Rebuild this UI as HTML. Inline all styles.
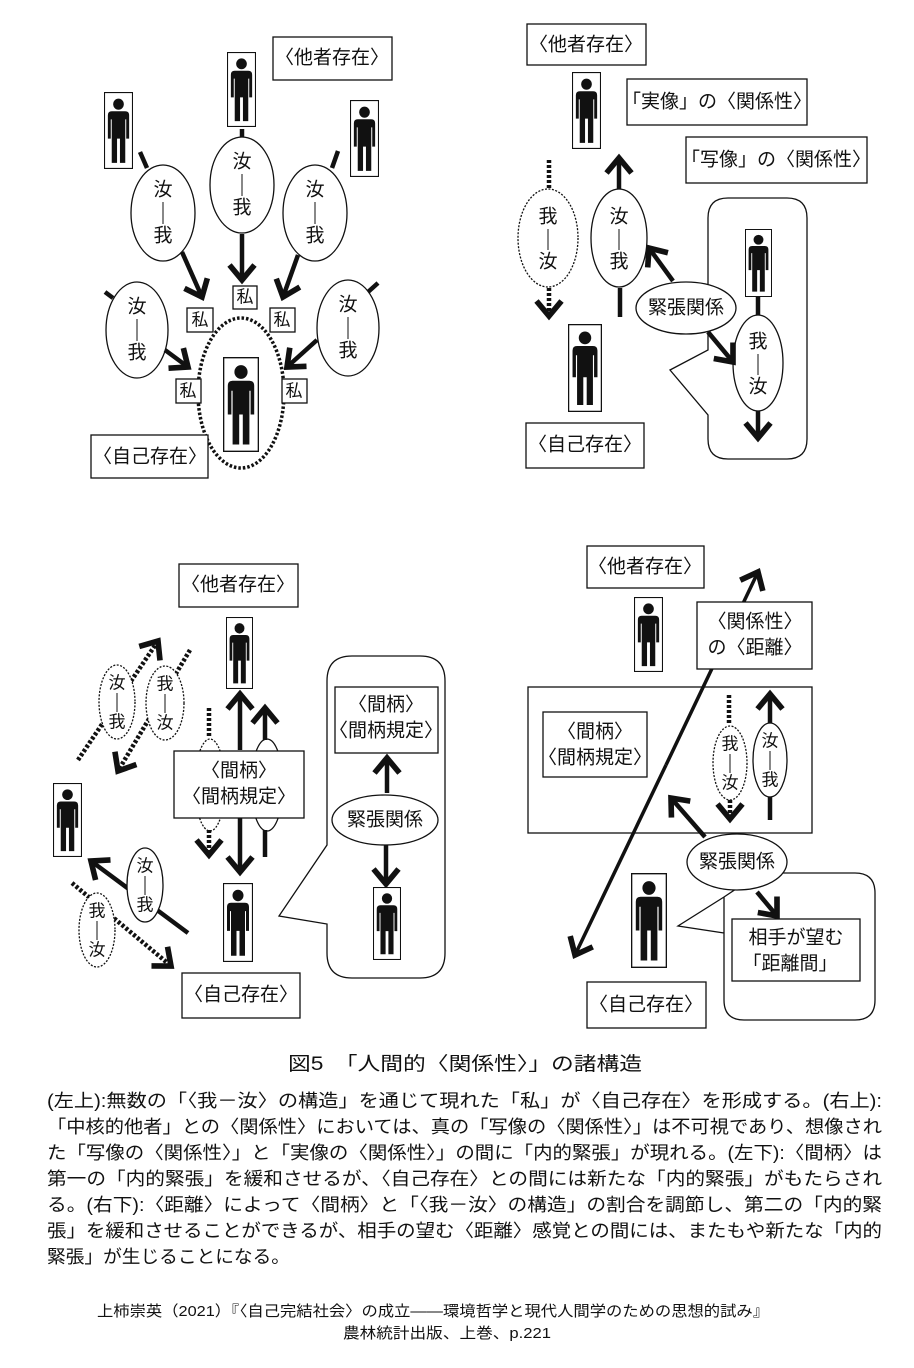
<!DOCTYPE html>
<html><head><meta charset="utf-8"><style>
html,body{margin:0;padding:0;background:#fff;}
svg{display:block;}
text{font-family:"Liberation Sans","Noto Sans CJK JP",sans-serif;fill:#111;}
</style></head><body>
<svg width="914" height="1368" viewBox="0 0 914 1368" xmlns="http://www.w3.org/2000/svg">
<defs>
<symbol id="p" viewBox="0 0 30 76" preserveAspectRatio="none">
<rect x="0.5" y="0.5" width="29" height="75" fill="#fff" stroke="#111" stroke-width="1.2"/>
<circle cx="15" cy="12" r="5.5" fill="#111"/>
<path d="M8,19 H22 Q26,19 26,23 V46 H23 V27 H22 V70 H16.5 V46 H13.5 V70 H8 V27 H7 V46 H4 V23 Q4,19 8,19 Z" fill="#111"/>
</symbol>
<marker id="a" markerUnits="userSpaceOnUse" markerWidth="30" markerHeight="30" viewBox="-14 -12 18 24" refX="0" refY="0" orient="auto">
<path d="M-12,-10 L0,0 L-12,10" fill="none" stroke="#111" stroke-width="4.5"/>
</marker>
</defs>
<g fill="none" stroke="#111" stroke-width="1.3">
<!-- Q1 -->
<rect x="273" y="37" width="119" height="43" fill="#fff"/>
<ellipse cx="163" cy="213" rx="32" ry="48"/>
<ellipse cx="242" cy="185" rx="32" ry="48"/>
<ellipse cx="315" cy="213" rx="32" ry="48"/>
<ellipse cx="137" cy="330" rx="31" ry="48"/>
<ellipse cx="348" cy="328" rx="31" ry="48"/>
<ellipse cx="241" cy="393" rx="43" ry="75" stroke-width="3.5" stroke-dasharray="2.5,2"/>
<rect x="233" y="286" width="24" height="23" fill="#fff"/>
<rect x="187" y="308" width="26" height="24" fill="#fff"/>
<rect x="270" y="308" width="25" height="24" fill="#fff"/>
<rect x="176" y="379" width="25" height="24" fill="#fff"/>
<rect x="282" y="379" width="25" height="24" fill="#fff"/>
<rect x="91" y="435" width="117" height="43" fill="#fff"/>
<!-- Q2 -->
<rect x="527" y="24" width="119" height="41"/>
<rect x="627" y="79" width="180" height="46"/>
<rect x="686" y="137" width="181" height="46"/>
<ellipse cx="548" cy="238" rx="30" ry="49" stroke-dasharray="2,1.5"/>
<ellipse cx="619" cy="238" rx="28" ry="49"/>
<path d="M708,350 V218 Q708,198 728,198 H787 Q807,198 807,218 V439 Q807,459 787,459 H728 Q708,459 708,439 V415 L670,370 Z" fill="#fff"/>
<ellipse cx="758" cy="363" rx="25" ry="48"/>
<ellipse cx="686" cy="308" rx="50" ry="26" fill="#fff"/>
<rect x="526" y="423" width="118" height="45"/>
<!-- Q3 -->
<rect x="179" y="564" width="119" height="43"/>
<ellipse cx="210" cy="785" rx="15" ry="46" stroke-dasharray="2,1.5"/>
<ellipse cx="267" cy="785" rx="16" ry="46"/>
<rect x="182" y="973" width="118" height="45"/>
<path d="M327,845 V681 Q327,656 352,656 H420 Q445,656 445,681 V953 Q445,978 420,978 H352 Q327,978 327,953 V924 L279,916 Z"/>
<rect x="335" y="687" width="103" height="66"/>
<ellipse cx="385" cy="820" rx="53" ry="25"/>
<!-- Q4 -->
<rect x="587" y="546" width="117" height="42"/>
<rect x="528" y="687" width="284" height="146"/>
<rect x="543" y="712" width="104" height="65"/>
<ellipse cx="730" cy="763" rx="17" ry="37" stroke-dasharray="2,1.5"/>
<ellipse cx="770" cy="760" rx="17" ry="37"/>
<path d="M724,897 V1000 Q724,1020 744,1020 H855 Q875,1020 875,1000 V893 Q875,873 855,873 H760 L724,897 L678,926 L724,933 Z" fill="#fff"/>
<rect x="732" y="919" width="128" height="62"/>
<ellipse cx="737" cy="862" rx="50" ry="28" fill="#fff"/>
<rect x="587" y="982" width="119" height="46"/>
</g>

<!-- thick lines and arrows -->
<g fill="none" stroke="#111" stroke-width="4.5">
<!-- Q1 -->
<line x1="140" y1="152" x2="147" y2="168"/>
<line x1="242" y1="129" x2="242" y2="137"/>
<line x1="338" y1="151" x2="332" y2="168"/>
<line x1="105" y1="292" x2="113" y2="298"/>
<line x1="378" y1="283" x2="368" y2="292"/>
<line x1="182" y1="252" x2="202" y2="297" marker-end="url(#a)"/>
<line x1="242" y1="234" x2="242" y2="280" marker-end="url(#a)"/>
<line x1="298" y1="255" x2="283" y2="297" marker-end="url(#a)"/>
<line x1="165" y1="350" x2="188" y2="367" marker-end="url(#a)"/>
<line x1="317" y1="340" x2="287" y2="367" marker-end="url(#a)"/>
<!-- Q2 -->
<line x1="549" y1="160" x2="549" y2="189" stroke-dasharray="3,2"/>
<line x1="549" y1="288" x2="549" y2="316" stroke-dasharray="3,2" marker-end="url(#a)"/>
<line x1="619" y1="189" x2="619" y2="158" marker-end="url(#a)"/>
<line x1="620" y1="288" x2="620" y2="317"/>
<line x1="673" y1="281" x2="649" y2="248" marker-end="url(#a)"/>
<line x1="708" y1="332" x2="733" y2="362" marker-end="url(#a)"/>
<line x1="758" y1="297" x2="758" y2="315"/>
<line x1="758" y1="411" x2="758" y2="438" marker-end="url(#a)"/>
<!-- Q3 -->
<line x1="209" y1="708" x2="209" y2="738" stroke-dasharray="3,2"/>
<line x1="209" y1="830" x2="209" y2="855" stroke-dasharray="3,2" marker-end="url(#a)"/>
<line x1="240" y1="750" x2="240" y2="694" marker-end="url(#a)"/>
<line x1="240" y1="818" x2="240" y2="872" marker-end="url(#a)"/>
<line x1="265" y1="740" x2="265" y2="708" marker-end="url(#a)"/>
<line x1="265" y1="830" x2="265" y2="857"/>
<line x1="78" y1="760" x2="158" y2="641" stroke-dasharray="3,2" marker-end="url(#a)"/>
<line x1="190" y1="650" x2="118" y2="771" stroke-dasharray="3,2" marker-end="url(#a)"/>
<line x1="188" y1="933" x2="91" y2="861" marker-end="url(#a)"/>
<line x1="72" y1="883" x2="171" y2="966" stroke-dasharray="3,2" marker-end="url(#a)"/>
<line x1="387" y1="793" x2="387" y2="758" marker-end="url(#a)"/>
<line x1="386" y1="845" x2="386" y2="884" marker-end="url(#a)"/>
<!-- Q4 -->
<line x1="729" y1="695" x2="729" y2="723" stroke-dasharray="3,2"/>
<line x1="730" y1="800" x2="730" y2="819" stroke-dasharray="3,2" marker-end="url(#a)"/>
<line x1="770" y1="723" x2="770" y2="694" marker-end="url(#a)"/>
<line x1="770" y1="797" x2="770" y2="820"/>
<line x1="705" y1="837" x2="671" y2="798" marker-end="url(#a)"/>
<line x1="757" y1="892" x2="777" y2="916" marker-end="url(#a)"/>
</g>
<g fill="none" stroke="#111" stroke-width="3.5">
<line x1="666" y1="765" x2="575" y2="955" marker-end="url(#a)"/>
<line x1="666" y1="765" x2="758" y2="572" marker-end="url(#a)"/>
</g>
<!-- shapes drawn over lines -->
<g fill="#fff" stroke="#111" stroke-width="1.3">
<rect x="697" y="602" width="115" height="67"/>
<rect x="174" y="751" width="130" height="67"/>
<ellipse cx="117" cy="702" rx="18" ry="37" stroke-dasharray="2,1.5"/>
<ellipse cx="165" cy="703" rx="19" ry="37" stroke-dasharray="2,1.5"/>
<ellipse cx="145" cy="885" rx="18" ry="37"/>
<ellipse cx="97" cy="930" rx="18" ry="37" stroke-dasharray="2,1.5"/>
</g>

<!-- persons -->
<use href="#p" x="227" y="52" width="29" height="75"/>
<use href="#p" x="104" y="92" width="29" height="77"/>
<use href="#p" x="350" y="100" width="29" height="77"/>
<use href="#p" x="223" y="357" width="36" height="95"/>
<use href="#p" x="572" y="72" width="29" height="77"/>
<use href="#p" x="745" y="229" width="27" height="68"/>
<use href="#p" x="568" y="324" width="34" height="88"/>
<use href="#p" x="226" y="617" width="27" height="72"/>
<use href="#p" x="53" y="783" width="29" height="74"/>
<use href="#p" x="223" y="883" width="30" height="79"/>
<use href="#p" x="373" y="887" width="28" height="73"/>
<use href="#p" x="634" y="597" width="29" height="75"/>
<use href="#p" x="631" y="873" width="36" height="95"/>

<!-- text -->
<g font-size="19" text-anchor="middle" dominant-baseline="central">
<text x="332" y="58">〈他者存在〉</text>
<text x="150" y="457">〈自己存在〉</text>
<text x="245" y="297" font-size="17">私</text>
<text x="200" y="320" font-size="17">私</text>
<text x="282" y="320" font-size="17">私</text>
<text x="188" y="391" font-size="17">私</text>
<text x="294" y="391" font-size="17">私</text>
<text x="586" y="45">〈他者存在〉</text>
<text x="717" y="102">「実像」の〈関係性〉</text>
<text x="776" y="160">「写像」の〈関係性〉</text>
<text x="686" y="308">緊張関係</text>
<text x="585" y="445">〈自己存在〉</text>
<text x="238" y="585">〈他者存在〉</text>
<text x="239" y="771">〈間柄〉</text>
<text x="239" y="797">〈間柄規定〉</text>
<text x="241" y="995">〈自己存在〉</text>
<text x="386" y="705">〈間柄〉</text>
<text x="386" y="731">〈間柄規定〉</text>
<text x="385" y="820">緊張関係</text>
<text x="645" y="567">〈他者存在〉</text>
<text x="755" y="622">〈関係性〉</text>
<text x="755" y="648">の〈距離〉</text>
<text x="595" y="732">〈間柄〉</text>
<text x="595" y="758">〈間柄規定〉</text>
<text x="737" y="862">緊張関係</text>
<text x="796" y="938">相手が望む</text>
<text x="790" y="964">「距離間」</text>
<text x="646" y="1005">〈自己存在〉</text>
</g>
<!-- ellipse vertical labels -->
<g font-size="19" text-anchor="middle" dominant-baseline="central">
<text x="163" y="190">汝</text><text x="163" y="236">我</text>
<text x="242" y="162">汝</text><text x="242" y="208">我</text>
<text x="315" y="190">汝</text><text x="315" y="236">我</text>
<text x="137" y="307">汝</text><text x="137" y="353">我</text>
<text x="348" y="305">汝</text><text x="348" y="351">我</text>
<text x="548" y="217">我</text><text x="548" y="262">汝</text>
<text x="619" y="217">汝</text><text x="619" y="262">我</text>
<text x="758" y="342">我</text><text x="758" y="387">汝</text>
<text x="117" y="683" font-size="17">汝</text><text x="117" y="722" font-size="17">我</text>
<text x="165" y="684" font-size="17">我</text><text x="165" y="723" font-size="17">汝</text>
<text x="145" y="866" font-size="17">汝</text><text x="145" y="905" font-size="17">我</text>
<text x="97" y="911" font-size="17">我</text><text x="97" y="950" font-size="17">汝</text>
<text x="730" y="744" font-size="17">我</text><text x="730" y="783" font-size="17">汝</text>
<text x="770" y="741" font-size="17">汝</text><text x="770" y="780" font-size="17">我</text>
</g>
<g stroke="#111" stroke-width="1">
<line x1="163" y1="202" x2="163" y2="224"/>
<line x1="242" y1="174" x2="242" y2="196"/>
<line x1="315" y1="202" x2="315" y2="224"/>
<line x1="137" y1="319" x2="137" y2="341"/>
<line x1="348" y1="317" x2="348" y2="339"/>
<line x1="548" y1="229" x2="548" y2="250"/>
<line x1="619" y1="229" x2="619" y2="250"/>
<line x1="758" y1="354" x2="758" y2="375"/>
<line x1="117" y1="693" x2="117" y2="712"/>
<line x1="165" y1="694" x2="165" y2="713"/>
<line x1="145" y1="876" x2="145" y2="895"/>
<line x1="97" y1="921" x2="97" y2="940"/>
<line x1="730" y1="754" x2="730" y2="773"/>
<line x1="770" y1="751" x2="770" y2="770"/>
</g>

<!-- caption -->
<text x="465" y="1070" font-size="19" text-anchor="middle" textLength="354" lengthAdjust="spacingAndGlyphs">図5　「人間的〈関係性〉」の諸構造</text>
<g font-size="18">
<text x="47" y="1107" textLength="835" lengthAdjust="spacingAndGlyphs">(左上):無数の「〈我－汝〉の構造」を通じて現れた「私」が〈自己存在〉を形成する。(右上):</text>
<text x="47" y="1133" textLength="835" lengthAdjust="spacingAndGlyphs">「中核的他者」との〈関係性〉においては、真の「写像の〈関係性〉」は不可視であり、想像され</text>
<text x="47" y="1159" textLength="835" lengthAdjust="spacingAndGlyphs">た「写像の〈関係性〉」と「実像の〈関係性〉」の間に「内的緊張」が現れる。(左下):〈間柄〉は</text>
<text x="47" y="1185" textLength="835" lengthAdjust="spacingAndGlyphs">第一の「内的緊張」を緩和させるが、〈自己存在〉との間には新たな「内的緊張」がもたらされ</text>
<text x="47" y="1211" textLength="835" lengthAdjust="spacingAndGlyphs">る。(右下):〈距離〉によって〈間柄〉と「〈我－汝〉の構造」の割合を調節し、第二の「内的緊</text>
<text x="47" y="1237" textLength="835" lengthAdjust="spacingAndGlyphs">張」を緩和させることができるが、相手の望む〈距離〉感覚との間には、またもや新たな「内的</text>
<text x="47" y="1263" textLength="243" lengthAdjust="spacingAndGlyphs">緊張」が生じることになる。</text>
</g>
<g font-size="15" text-anchor="middle">
<text x="433" y="1316" textLength="672" lengthAdjust="spacingAndGlyphs">上柿崇英（2021）『〈自己完結社会〉の成立――環境哲学と現代人間学のための思想的試み』</text>
<text x="447" y="1338" textLength="208" lengthAdjust="spacingAndGlyphs">農林統計出版、上巻、p.221</text>
</g>
</svg>
</body></html>
